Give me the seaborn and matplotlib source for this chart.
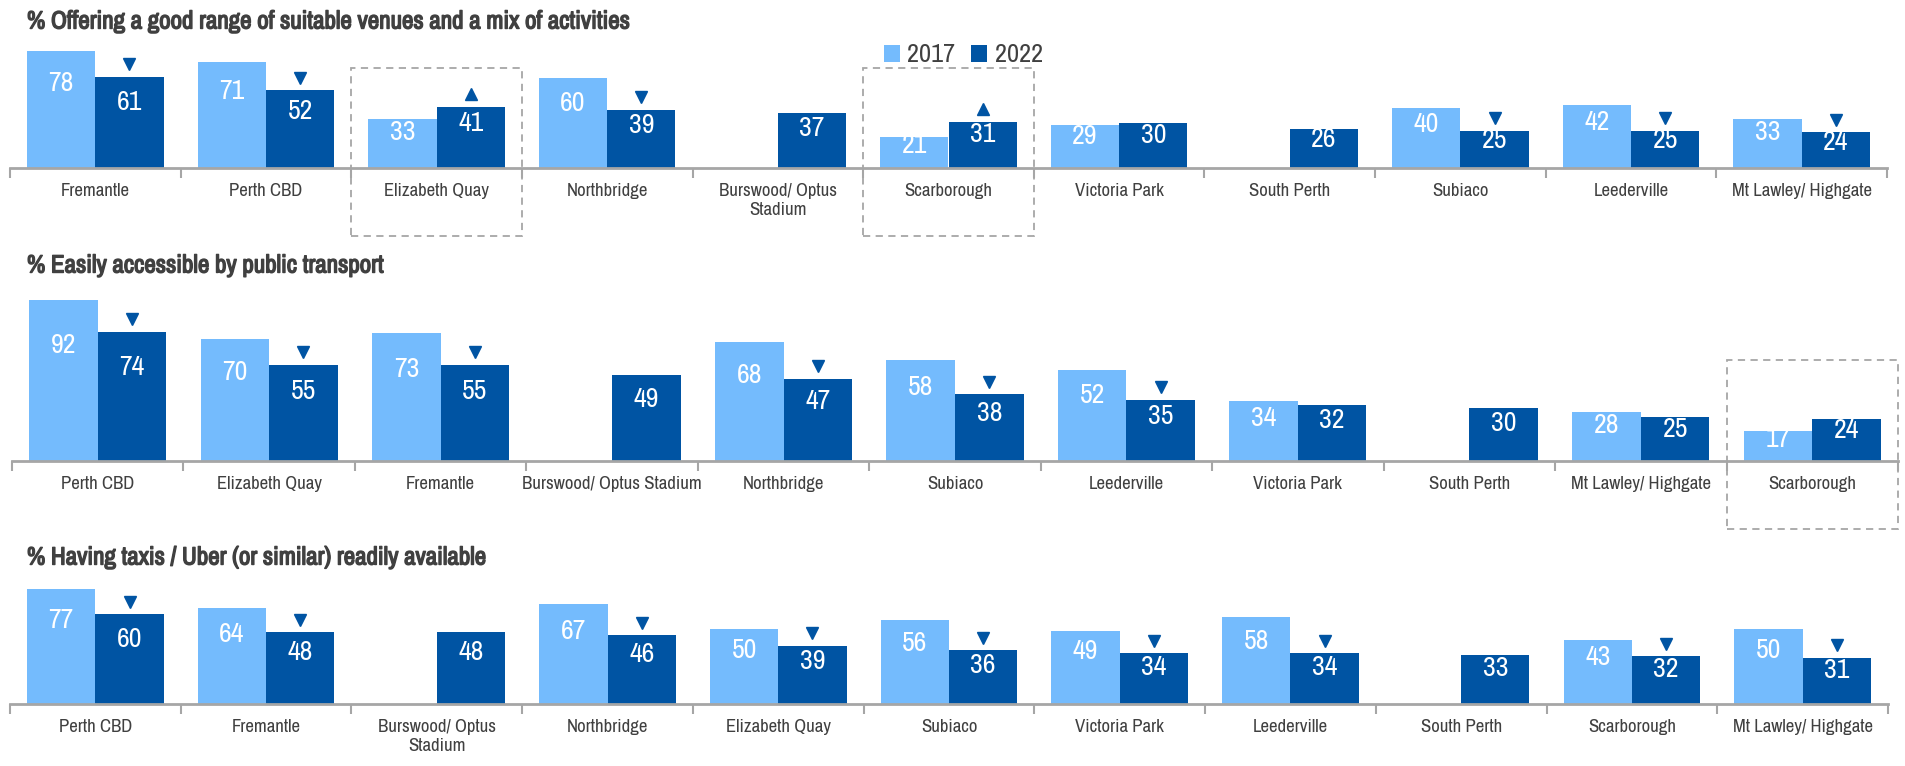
import numpy as np
import pandas as pd
import matplotlib
matplotlib.use("Agg")
import matplotlib.pyplot as plt
import matplotlib.patheffects as pe
from matplotlib import font_manager
from matplotlib.patches import Rectangle
from matplotlib.transforms import ScaledTranslation
import seaborn as sns

nan = np.nan

# Panel 1: venues and activities
venues_places = ["Fremantle", "Perth CBD", "Elizabeth Quay", "Northbridge", "Burswood/ Optus\nStadium",
                 "Scarborough", "Victoria Park", "South Perth", "Subiaco", "Leederville", "Mt Lawley/ Highgate"]
venues_2017 = [78, 71, 33, 60, nan, 21, 29, nan, 40, 42, 33]
venues_2022 = [61, 52, 41, 39, 37, 31, 30, 26, 25, 25, 24]
venues_sig = ["down", "down", "up", "down", "", "up", "", "", "down", "down", "down"]

# Panel 2: public transport
transport_places = ["Perth CBD", "Elizabeth Quay", "Fremantle", "Burswood/ Optus Stadium", "Northbridge",
                    "Subiaco", "Leederville", "Victoria Park", "South Perth", "Mt Lawley/ Highgate", "Scarborough"]
transport_2017 = [92, 70, 73, nan, 68, 58, 52, 34, nan, 28, 17]
transport_2022 = [74, 55, 55, 49, 47, 38, 35, 32, 30, 25, 24]
transport_sig = ["down", "down", "down", "", "down", "down", "down", "", "", "", ""]

# Panel 3: taxis / Uber
taxi_places = ["Perth CBD", "Fremantle", "Burswood/ Optus\nStadium", "Northbridge", "Elizabeth Quay",
               "Subiaco", "Victoria Park", "Leederville", "South Perth", "Scarborough", "Mt Lawley/ Highgate"]
taxi_2017 = [77, 64, nan, 67, 50, 56, 49, 58, nan, 43, 50]
taxi_2022 = [60, 48, 48, 46, 39, 36, 34, 34, 33, 32, 31]
taxi_sig = ["down", "down", "", "down", "down", "down", "down", "down", "", "down", "down"]

years = ["2017", "2022"]

LIGHT = "#74BBFD"
DARK = "#0054A3"
GREY = "#A6A6A6"
TEXT = "#404040"

W, H = 1906, 766

sns.set_style("white")
# pick a narrow sans (the original uses Arial Narrow)
names = {f.name for f in font_manager.fontManager.ttflist}
narrow = "Liberation Sans"
for cand in ["Liberation Sans Narrow", "Arial Narrow", "Archivo Narrow", "Roboto Condensed",
             "PT Sans Narrow", "IBM Plex Sans Condensed"]:
    if cand in names:
        narrow = cand
        break
plt.rcParams["font.family"] = [narrow, "DejaVu Sans"]

fig = plt.figure(figsize=(W / 100, H / 100), dpi=100)


def px_axes(x0, x1, baseline, px_per_unit, ymax):
    # axes placed in pixel coordinates of the full figure
    height = px_per_unit * ymax
    return fig.add_axes([x0 / W, 1 - baseline / H, (x1 - x0) / W, height / H])


def draw_panel(ax, places, v17, v22, sig, ymax, boxes=(), box_lo=0, box_hi=0, legend=False):
    n = len(places)
    df = pd.DataFrame({"Place": places * 2,
                       "Year": ["2017"] * n + ["2022"] * n,
                       "Value": list(v17) + list(v22)})
    sns.barplot(data=df, x="Place", y="Value", hue="Year", order=places, hue_order=years,
                palette=[LIGHT, DARK], errorbar=None, width=0.8, saturation=1,
                ax=ax, legend=legend, edgecolor="none")
    ax.set_ylim(0, ymax)
    ax.set_xlim(-0.5, n - 0.5)
    ax.set_xlabel("")
    ax.set_ylabel("")
    ax.set_yticks([])
    for s in ["top", "left", "right"]:
        ax.spines[s].set_visible(False)
    ax.spines["bottom"].set_color(GREY)
    ax.spines["bottom"].set_linewidth(2)

    ax.set_xticks(range(n))
    ax.set_xticklabels(places)
    ax.set_xticks(np.arange(-0.5, n), minor=True)
    ax.tick_params(axis="x", which="major", bottom=True, length=0, pad=11,
                   labelsize=13.5, labelcolor=TEXT)
    ax.tick_params(axis="x", which="minor", bottom=True, length=7, width=1.5,
                   color=GREY, direction="out")

    # value labels
    for cont in ax.containers:
        for bar in cont:
            h = bar.get_height()
            if np.isnan(h):
                continue
            ax.text(bar.get_x() + bar.get_width() / 2, h * 0.72, f"{h:.0f}",
                    ha="center", va="center", color="white", fontsize=20)

    # significance triangles above 2022 bars
    shift = ax.transData + ScaledTranslation(0, 9 / 72, fig.dpi_scale_trans)
    for bar, s in zip(ax.containers[1], sig):
        if not s:
            continue
        ax.plot(bar.get_x() + bar.get_width() / 2, bar.get_height(),
                marker="v" if s == "down" else "^", color=DARK, markersize=9,
                transform=shift, clip_on=False)

    # dashed highlight boxes
    for b in boxes:
        i = places.index(b)
        ax.add_patch(Rectangle((i - 0.5, box_lo), 1, box_hi - box_lo, fill=False,
                               ls=(0, (4, 3)), ec=GREY, lw=1.3, clip_on=False))


ax1 = px_axes(10, 1887, 168, 1.5, 85)
draw_panel(ax1, venues_places, venues_2017, venues_2022, venues_sig, 85,
           boxes=["Elizabeth Quay", "Scarborough"], box_lo=-45, box_hi=67, legend=True)
sns.move_legend(ax1, "center left", bbox_to_anchor=(860 / W, 1 - 55 / H),
                bbox_transform=fig.transFigure, ncol=2, frameon=False, title=None,
                handlelength=0.6, handleheight=0.6, handletextpad=0.3, columnspacing=0.6,
                fontsize=19, labelcolor=TEXT)

ax2 = px_axes(12, 1898, 461, 1.75, 100)
draw_panel(ax2, transport_places, transport_2017, transport_2022, transport_sig, 100,
           boxes=["Scarborough"], box_lo=-39, box_hi=57.5)

ax3 = px_axes(10, 1888, 704, 1.5, 85)
draw_panel(ax3, taxi_places, taxi_2017, taxi_2022, taxi_sig, 85)

titles = [("% Offering a good range of suitable venues and a mix of activities", 21),
          ("% Easily accessible by public transport", 265),
          ("% Having taxis / Uber (or similar) readily available", 557)]
for t, y in titles:
    # stroke gives the bold look when the narrow font has no bold face
    fig.text(27 / W, 1 - y / H, t, fontsize=18, fontweight="bold", color=TEXT, va="center",
             path_effects=[pe.withStroke(linewidth=1.0, foreground=TEXT)])

fig.savefig("out.png", dpi=100)
